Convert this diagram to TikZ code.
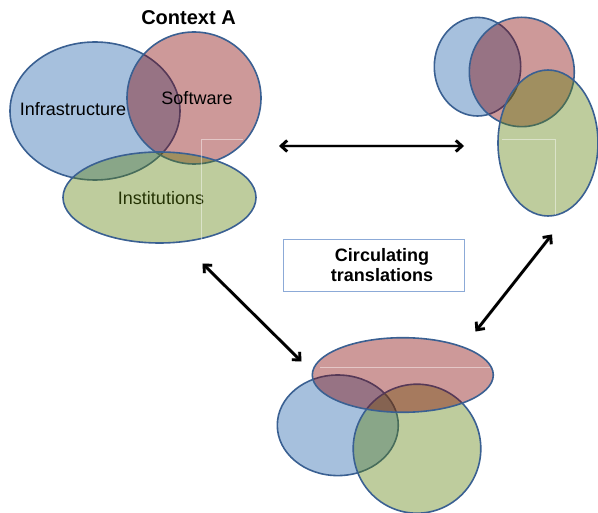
\documentclass[tikz,border=0pt]{standalone}
\usepackage{fontspec}
\setmainfont{Liberation Sans}
\usetikzlibrary{shapes.geometric,arrows.meta}

\definecolor{setblue}{RGB}{33,98,170}
\definecolor{setred}{RGB}{130,0,0}
\definecolor{setgreen}{RGB}{93,128,10}
\definecolor{rimblue}{RGB}{58,96,146}
\definecolor{boxblue}{RGB}{140,170,215}

\tikzset{
  setshape/.style={ellipse, inner sep=0pt, draw=rimblue, line width=1.6pt, fill opacity=0.4, draw opacity=1},
  blueset/.style={setshape, fill=setblue},
  redset/.style={setshape, fill=setred},
  greenset/.style={setshape, fill=setgreen},
  label/.style={font=\fontsize{18}{20}\selectfont, inner sep=0pt},
  ghost/.style={draw=white, draw opacity=0.45, line width=0.7pt},
  flow/.style={line width=2.8pt, {Straight Barb[length=6pt,width=11pt]}-{Straight Barb[length=6pt,width=11pt]}},
  flowshadow/.style={flow, draw=black!60, draw opacity=0.3, line width=3.4pt},
}

\begin{document}
\begin{tikzpicture}[x=1pt, y=-1pt]
  \path[use as bounding box] (0,0) rectangle (598,513);

  % ---- Context A ----
  \node[blueset, minimum width=170pt, minimum height=138pt] (infra) at (95,111) {};
  \node[redset, minimum width=134pt, minimum height=132pt] (soft) at (194,98) {};
  \node[label] (instlbl) at (161,198) {Institutions};
  \node[greenset, minimum width=193pt, minimum height=91pt] (inst) at (159.5,197.5) {};
  \draw[ghost] (201,243) -- (201,139) -- (243,139);
  \node[label] (infralbl) at (73,109) {Infrastructure};
  \node[label] (softlbl) at (197,98) {Software};
  \node[label, font=\fontsize{20}{22}\selectfont\bfseries] (ctxA) at (188.5,18) {Context A};

  % ---- upper right context ----
  \node[blueset, minimum width=86.4pt, minimum height=98.6pt] (infraB) at (477.5,66.7) {};
  \node[redset, minimum width=105pt, minimum height=109.4pt] (softB) at (521.8,72) {};
  \node[greenset, minimum width=100pt, minimum height=146pt] (instB) at (548,143) {};
  \draw[ghost] (502,139) -- (555,139) -- (555,215);

  % ---- lower context ----
  \node[blueset, minimum width=121pt, minimum height=100.6pt] (infraC) at (337.8,425.3) {};
  \node[greenset, minimum width=127.6pt, minimum height=129pt] (instC) at (417,448.7) {};
  \node[redset, minimum width=181pt, minimum height=74.6pt] (softC) at (402.8,375) {};
  \draw[ghost] (320,367) -- (490,367);

  % ---- caption box ----
  \node[draw=boxblue, line width=0.8pt, minimum width=180.7pt, minimum height=52.4pt, inner sep=0pt] (caption) at (373.7,265.5) {};
  \node[label, font=\fontsize{18}{20}\selectfont\bfseries, align=center] (captxt) at (382,265) {Circulating\\translations};

  % ---- translation arrows ----
  \coordinate (abL) at (279,146);
  \coordinate (abR) at (464,146);
  \coordinate (acA) at (202.5,263.5);
  \coordinate (acC) at (301.5,361.5);
  \coordinate (bcB) at (552,234.5);
  \coordinate (bcC) at (475.5,331.5);

  \begin{scope}[shift={(1.5,1.8)}]
    \draw[flowshadow] (abL) -- (abR);
    \draw[flowshadow] (acA) -- (acC);
    \draw[flowshadow] (bcB) -- (bcC);
  \end{scope}
  \draw[flow] (abL) -- (abR);
  \draw[flow] (acA) -- (acC);
  \draw[flow] (bcB) -- (bcC);
\end{tikzpicture}
\end{document}
